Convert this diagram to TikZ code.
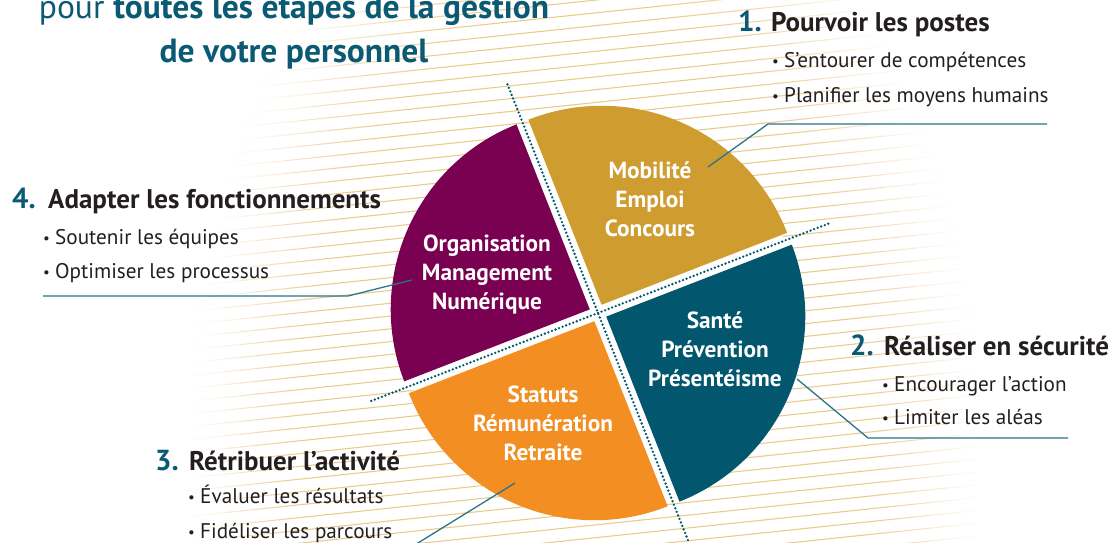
\documentclass[tikz,border=0pt]{standalone}
\usepackage{fontspec}
\setmainfont{PT Sans}
\usetikzlibrary{calc}
\definecolor{stripe}{HTML}{EACB8E}
\definecolor{gold}{HTML}{CE9C2F}
\definecolor{plum}{HTML}{7A0051}
\definecolor{petrol}{HTML}{02566E}
\definecolor{orangec}{HTML}{F28E22}
\definecolor{ink}{HTML}{231F20}
\definecolor{numc}{HTML}{0A5A73}
\definecolor{leaderc}{HTML}{2A7389}
\tikzset{
  dotline/.style={draw=petrol, line width=2.6, line cap=round, dash pattern=on 0pt off 3.8pt},
  leader/.style={draw=leaderc, line width=1.3},
  pielabel/.style={font=\fontsize{23.3}{29}\selectfont\bfseries, text=white, align=center, inner sep=0},
  numtxt/.style={font=\fontsize{29}{30}\selectfont\bfseries, text=numc, inner sep=0, anchor=base west},
  headtxt/.style={font=\fontsize{27}{30}\selectfont\bfseries, text=ink, inner sep=0, anchor=base west},
  bultxt/.style={font=\fontsize{21.2}{24}\selectfont, text=ink, inner sep=0, anchor=base west},
  titletxt/.style={font=\fontsize{33.5}{36}\selectfont, text=numc, inner sep=0, anchor=base},
}
\newcommand{\blt}{\makebox[12pt][l]{\raisebox{0.5pt}{\fontsize{15}{15}\selectfont•}}}
\begin{document}
\begin{tikzpicture}[x=1pt,y=-1pt]
\useasboundingbox (0,0) rectangle (1116,543);
% background stripes
\foreach \k in {-18,...,34}{
  \foreach \i in {0,...,74}{
    \pgfmathsetmacro{\xa}{15*\i}
    \pgfmathsetmacro{\xb}{15*\i+15}
    \pgfmathsetmacro{\xm}{15*\i+7.5}
    \pgfmathsetmacro{\ya}{145+12.8*(\k)-0.1051*(\xa-800)}
    \pgfmathsetmacro{\yb}{145+12.8*(\k)-0.1051*(\xb-800)}
    \pgfmathsetmacro{\ym}{0.5*(\ya+\yb)}
    \pgfmathsetmacro{\dq}{sqrt(((\xm-585)/410)^2+((\ym-470)/690)^2)}
    \pgfmathsetmacro{\tq}{max(0,min(1,(1-\dq)/0.34))}
    \pgfmathtruncatemacro{\pq}{100*\tq*\tq*(3-2*\tq)}
    \ifnum\pq>0
      \ifdim\ym pt>-5pt
        \ifdim\ym pt<548pt
          \draw[stripe!\pq!white, line width=1.1] (\xa,\ya) -- (\xb,\yb);
        \fi
      \fi
    \fi
  }
}
% pie
\coordinate (C) at (598,313);
\fill[white] (C) circle[radius=200];
\fill[gold] ([shift={(-66.4:9)}]C) -- ++(-111.6:199) arc[start angle=-111.6, end angle=-21.2, radius=199] -- cycle;
\fill[petrol] ([shift={(23.6:9)}]C) -- ++(-21.2:199) arc[start angle=-21.2, end angle=68.4, radius=199] -- cycle;
\fill[orangec] ([shift={(113.6:9)}]C) -- ++(68.4:199) arc[start angle=68.4, end angle=158.8, radius=199] -- cycle;
\fill[plum] ([shift={(203.6:9)}]C) -- ++(158.8:199) arc[start angle=158.8, end angle=248.4, radius=199] -- cycle;
% dotted separators
\coordinate (L1a) at ([shift={(-111.6:246)}]C);
\coordinate (L1b) at ([shift={(68.4:246)}]C);
\coordinate (L2a) at ([shift={(-21.2:247)}]C);
\coordinate (L2b) at ([shift={(158.8:247)}]C);
\draw[dotline] (L1a) -- (L1b);
\draw[dotline] (L2a) -- (L2b);
% pie labels
\node[pielabel] (pg) at (650,199) {Mobilité\\Emploi\\Concours};
\node[pielabel] (pp) at (487,275) {Organisation\\Management\\Numérique};
\node[pielabel] (pt) at (715,349) {Santé\\Prévention\\Présentéisme};
\node[pielabel] (po) at (543,423) {Statuts\\Rémunération\\Retraite};
% leaders
\coordinate (a1) at (708,167); \coordinate (a2) at (768,124); \coordinate (a3) at (1047,124);
\coordinate (d1) at (412,280); \coordinate (d2) at (348,296); \coordinate (d3) at (43,296);
\coordinate (b1) at (797,379); \coordinate (b2) at (868,438); \coordinate (b3) at (1068,438);
\coordinate (c1) at (515,483); \coordinate (c2) at (405,551);
\draw[leader] (a1) -- (a2) -- (a3);
\draw[leader] (d1) -- (d2) -- (d3);
\draw[leader] (b1) -- (b2) -- (b3);
\draw[leader] (c1) -- (c2);
% title
\node[titletxt] (t1) at (294,19) {pour \textbf{toutes les étapes de la gestion}};
\node[titletxt] (t2) at (294,63) {\textbf{de votre personnel}};
% block 1
\node[numtxt] (n1) at (738,32) {1.};
\node[headtxt] (h1) at (771,32) {Pourvoir les postes};
\node[bultxt] (s1a) at (772,67) {\blt S’entourer de compétences};
\node[bultxt] (s1b) at (772,102) {\blt Planifier les moyens humains};
% block 4
\node[numtxt] (n4) at (12,208) {4.};
\node[headtxt] (h4) at (48,208) {Adapter les fonctionnements};
\node[bultxt] (s4a) at (43,244) {\blt Soutenir les équipes};
\node[bultxt] (s4b) at (43,278) {\blt Optimiser les processus};
% block 2
\node[numtxt] (n2) at (850,355) {2.};
\node[headtxt] (h2) at (884,355) {Réaliser en sécurité};
\node[bultxt] (s2a) at (882,391) {\blt Encourager l’action};
\node[bultxt] (s2b) at (882,424) {\blt Limiter les aléas};
% block 3
\node[numtxt] (n3) at (155,470) {3.};
\node[headtxt] (h3) at (189,470) {Rétribuer l’activité};
\node[bultxt] (s3a) at (188,503) {\blt Évaluer les résultats};
\node[bultxt] (s3b) at (188,538) {\blt Fidéliser les parcours};
\end{tikzpicture}
\end{document}
